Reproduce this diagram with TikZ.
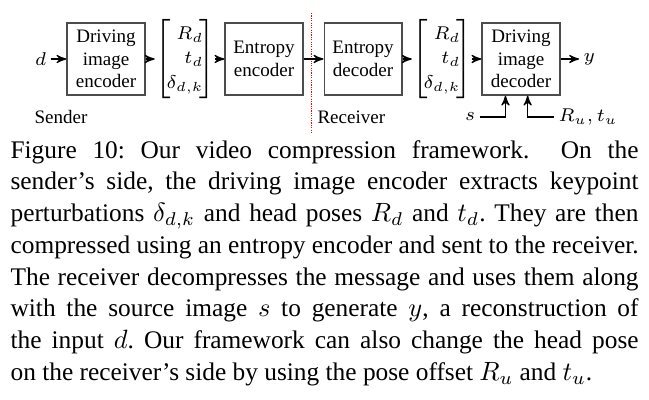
\documentclass[tikz,border=0pt]{standalone}
\usepackage{fontspec}
\setmainfont{Liberation Serif}
\usetikzlibrary{arrows}
\usetikzlibrary{positioning}
\tikzset{
    block/.style={
           rectangle,
           draw=black!70, line width=0.45pt,
           minimum width=29.5pt,
           minimum height=27.3pt,
           inner sep=1pt,
           align=center,
           font=\fontsize{7.2}{8.5}\selectfont,
           },
    vec/.style={
           inner sep=0pt,
           font=\fontsize{7.2}{8.5}\selectfont,
           },
    lbl/.style={
           inner sep=1.5pt,
           font=\fontsize{7.2}{8.5}\selectfont,
           },
}
% bracketed pose and keypoint vector
\newcommand{\posevec}{$\renewcommand{\arraystretch}{1.1}\left[\begin{array}{@{\hspace{-1.6pt}}r@{\hspace{-1.6pt}}}R_d\\ t_d\\ \delta_{d,k}\end{array}\right]$}

\begin{document}
\begin{tikzpicture}[->,>=stealth',line width=0.45pt,x=0.3785pt,y=-0.3785pt]
  \newlength{\boxspace}
  \newlength{\gapspace}
  \setlength{\boxspace}{29.9pt}
  \setlength{\gapspace}{37.5pt}
  \useasboundingbox (0,0) rectangle (649,400);

   % sender side
   \node[block] (DENC) at (106,59) {Driving\\image\\encoder};
   \node[lbl, left=6pt of DENC] (D) {$d$};
   \node[vec,                  % bracketed output
    right of=DENC,             % center to center
    node distance=\boxspace]   (SENDVEC) {\posevec};
   \node[block,
    right of=SENDVEC,
    node distance=\boxspace]   (EENC) {Entropy\\encoder};

   % receiver side
   \node[block,
    right of=EENC,
    node distance=\gapspace]   (EDEC) {Entropy\\decoder};
   \node[vec,
    right of=EDEC,
    node distance=\boxspace]   (RECVEC) {\posevec};
   \node[block,
    right of=RECVEC,
    node distance=\boxspace]   (DDEC) {Driving\\image\\decoder};
   \node[lbl, right=7pt of DDEC] (Y) {$y$};

   % labels below the graph
   \node[lbl, anchor=west] (SENDER) at (30,117) {Sender};
   \node[lbl, anchor=west] (RECEIVER) at (313,117) {Receiver};
   \node[lbl] (S) at (470,117) {$s$};
   \node[lbl, anchor=west] (RU) at (554,117) {$R_u,t_u$};

   % divider between sender and receiver
   \coordinate (DIVTOP) at (311.7,13);
   \coordinate (DIVBOT) at (311.7,134);
   \draw[-, red, dash pattern=on 0.45pt off 0.45pt, line width=0.5pt] (DIVTOP) -- (DIVBOT);

   % connectors
   \path
   (D) edge (DENC)
   (DENC) edge (SENDVEC)
   (SENDVEC) edge (EENC)
   (EENC) edge (EDEC)
   (EDEC) edge (RECVEC)
   (RECVEC) edge (DDEC)
   (DDEC) edge (Y)
   ;
   \draw (S) -| ([xshift=-5.9pt]DDEC.south);
   \draw (RU) -| ([xshift=2.5pt]DDEC.south);

   % caption text
   \node[anchor=base west, inner sep=0pt, text width=237.7pt, align=justify,
    font=\fontsize{9.6}{12}\selectfont\frenchspacing] (CAPTION) at (10,158.3)
   {Figure 10: Our video compression framework.\ \ On the\linebreak
   sender’s side, the driving image encoder extracts keypoint\linebreak
   perturbations $\delta_{d,k}$ and head poses $R_d$ and $t_d$. They are then\linebreak
   compressed using an entropy encoder and sent to the receiver.\linebreak
   The receiver decompresses the message and uses them along\linebreak
   with the source image $s$ to generate $y$, a reconstruction of\linebreak
   the input $d$. Our framework can also change the head pose\linebreak
   on the receiver’s side by using the pose offset $R_u$ and $t_u$.};
\end{tikzpicture}
\end{document}
